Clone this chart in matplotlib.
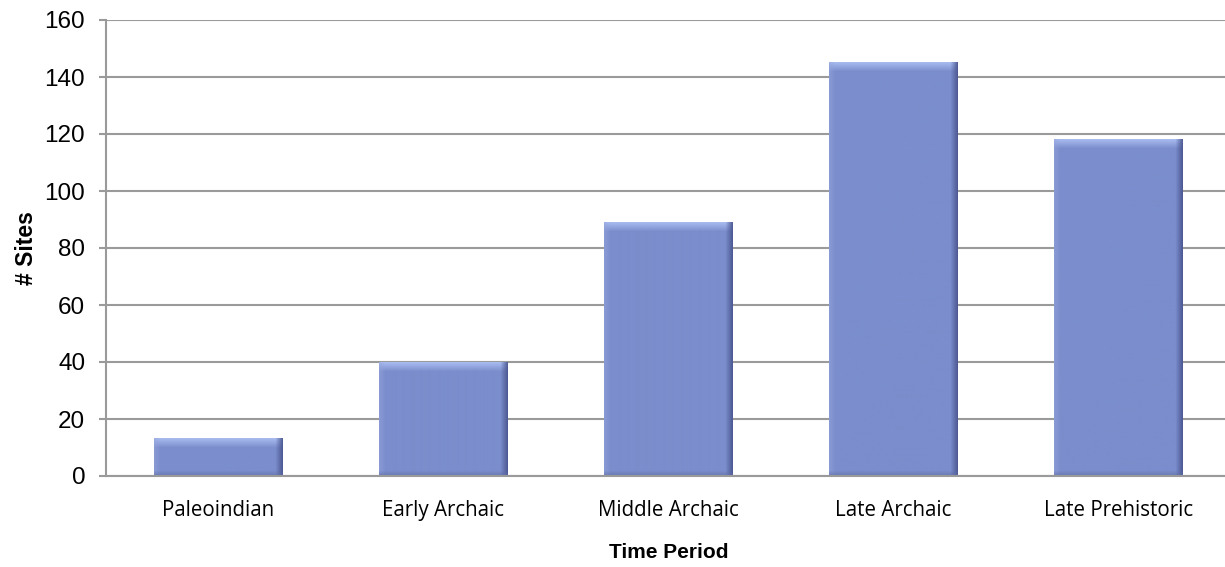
import numpy as np
import matplotlib
matplotlib.use("Agg")
import matplotlib.pyplot as plt

periods = ["Paleoindian", "Early Archaic", "Middle Archaic", "Late Archaic", "Late Prehistoric"]
site_counts = [13, 40, 89, 145, 118]
y_ticks = [0, 20, 40, 60, 80, 100, 120, 140, 160]

W, H, DPI = 1225, 567, 100
fig = plt.figure(figsize=(W / DPI, H / DPI), dpi=DPI)
ax = fig.add_axes([106 / W, 91 / H, 1125 / W, 456 / H])

base = np.array([123, 141, 204]) / 255.0
grid_col = "#9a9a9a"

bars = ax.bar(range(len(periods)), site_counts, width=0.57, color=base,
              zorder=3, linewidth=0)

ax.set_xlim(-0.5, len(periods) - 0.5)
ax.set_ylim(0, 160)
ax.set_yticks(y_ticks)
ax.set_yticklabels([str(v) for v in y_ticks], family="Liberation Sans", fontsize=17.5)
ax.set_xticks(range(len(periods)))
ax.set_xticklabels(periods, family="Open Sans", fontsize=14.8)
ax.tick_params(axis="x", length=0, pad=17)
ax.tick_params(axis="y", length=5, color=grid_col, width=1.5, pad=10)
ax.yaxis.grid(True, color=grid_col, linewidth=1.5, zorder=0)
ax.set_axisbelow(True)
for side in ("top", "right"):
    ax.spines[side].set_visible(False)
for side in ("left", "bottom"):
    ax.spines[side].set_color(grid_col)
    ax.spines[side].set_linewidth(1.5)
ax.spines["bottom"].set_zorder(4)

ax.set_ylabel("# Sites", family="Liberation Sans", fontweight="bold", fontsize=16.5)
ax.yaxis.set_label_coords(-68 / 1125, 0.5)
ax.set_xlabel("Time Period", family="Liberation Sans", fontweight="bold", fontsize=15, labelpad=16)

# bevelled shading drawn as an image over each bar
fig.canvas.draw()
for rect in bars:
    x0, y0 = rect.get_x(), rect.get_y()
    w, h = rect.get_width(), rect.get_height()
    (px0, py0), (px1, py1) = ax.transData.transform([(x0, y0), (x0 + w, y0 + h)])
    wp, hp = max(int(round(px1 - px0)), 2), max(int(round(py1 - py0)), 2)
    img = np.ones((hp, wp, 3)) * base
    yy, xx = np.mgrid[0:hp, 0:wp]
    # top highlight
    top = np.clip(1 - yy / 9.0, 0, 1)
    img = img + (np.array([175, 195, 245]) / 255.0 - img) * top[..., None] * 0.85
    # left light edge
    left = np.clip(1 - xx / 6.0, 0, 1)
    img = img + (np.array([150, 165, 220]) / 255.0 - img) * left[..., None] * 0.5
    # right dark edge
    right = np.clip(1 - (wp - 1 - xx) / 7.0, 0, 1)
    img = img + (np.array([70, 82, 140]) / 255.0 - img) * right[..., None] * 0.85
    # bottom dark edge
    bot = np.clip(1 - (hp - 1 - yy) / 5.0, 0, 1)
    img = img + (np.array([95, 108, 165]) / 255.0 - img) * bot[..., None] * 0.6
    ax.imshow(np.clip(img, 0, 1), extent=(x0, x0 + w, y0, y0 + h), aspect="auto",
              zorder=3.5, interpolation="bilinear")

ax.set_xlim(-0.5, len(periods) - 0.5)
ax.set_ylim(0, 160)

fig.savefig("out.png", dpi=DPI)
